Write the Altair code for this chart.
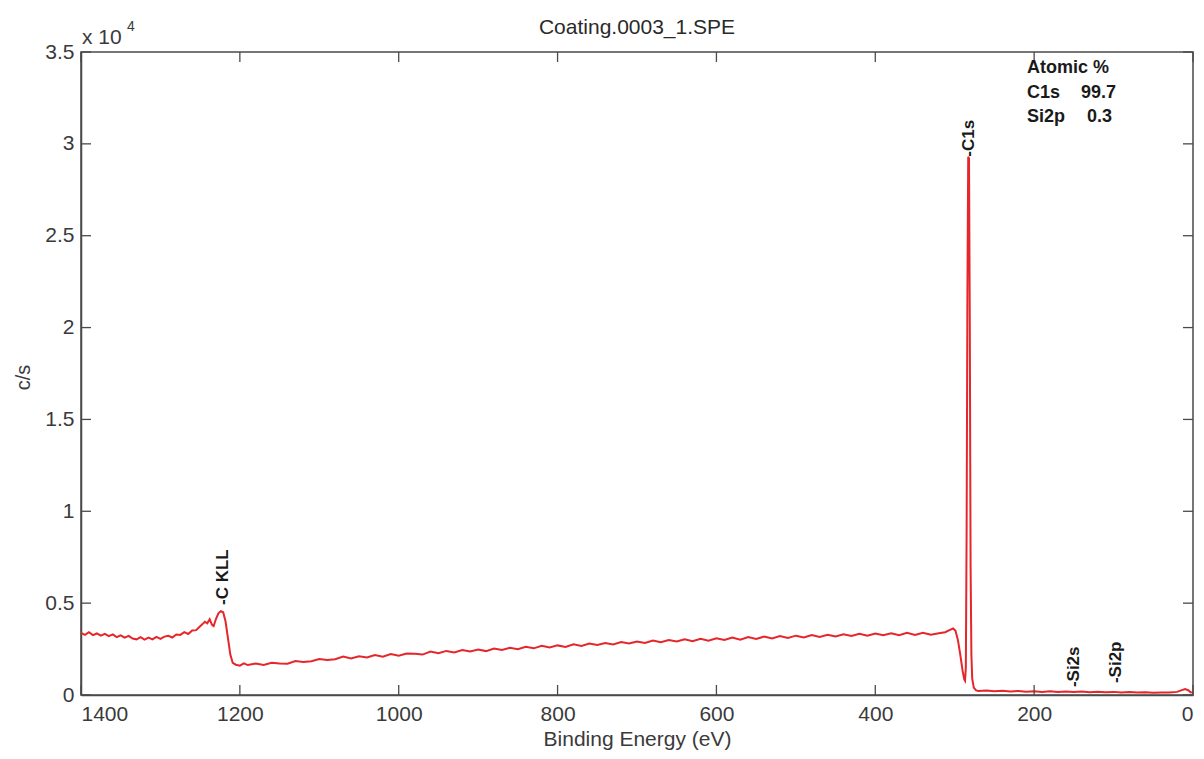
import altair as alt
import pandas as pd

# ---- spectrum (binding energy in eV, counts per second) ----
ev = [1400, 1395, 1390, 1385, 1380, 1375, 1370, 1365, 1360, 1355, 1350, 1345, 1340, 1335, 1330,
      1325, 1320, 1315, 1310, 1305, 1300, 1295, 1290, 1285, 1280, 1275, 1270, 1265, 1260, 1255,
      1250, 1247, 1244, 1241, 1238, 1235, 1233, 1230, 1227, 1224, 1221, 1218, 1215, 1212, 1209,
      1205, 1200, 1195, 1190,
      1180, 1170, 1160, 1150, 1140, 1130, 1120, 1110, 1100, 1090, 1080, 1070, 1060, 1050, 1040,
      1030, 1020, 1010, 1000, 990, 980, 970, 960, 950, 940, 930, 920, 910, 900, 890, 880, 870,
      860, 850, 840, 830, 820, 810, 800, 790, 780, 770, 760, 750, 740, 730, 720, 710, 700, 690,
      680, 670, 660, 650, 640, 630, 620, 610, 600, 590, 580, 570, 560, 550, 540, 530, 520, 510,
      500, 490, 480, 470, 460, 450, 440, 430, 420, 410, 400, 390, 380, 370, 360, 350, 340, 330,
      320, 312, 306, 302, 299, 296, 293, 290, 288, 287, 286, 285, 284, 283, 282, 281, 280, 279,
      278, 276, 273, 270, 260, 250, 240, 230, 220, 210, 200, 190, 180, 170, 160, 150, 140, 130,
      120, 110, 100, 90, 80, 70, 60, 50, 40, 30, 20, 15, 10, 6, 3, 0]
cps = [3380, 3270, 3420, 3260, 3350, 3230, 3330, 3200, 3300, 3150, 3250, 3120, 3220, 3070, 3030,
       3150, 3010, 3120, 3030, 3160, 3050, 3180, 3220, 3130, 3290, 3270, 3420, 3320, 3510, 3530,
       3740, 3860, 3990, 3900, 4120, 3820, 3750, 4150, 4450, 4560, 4500, 4000, 3100, 2200, 1750,
       1650, 1600, 1720, 1630,
       1720, 1640, 1760, 1720, 1700, 1850, 1800, 1840, 1960, 1900, 1950, 2090, 1990, 2110, 2040,
       2180, 2090, 2230, 2140, 2260, 2240, 2200, 2360, 2270, 2400, 2320, 2450, 2370, 2480, 2390,
       2530, 2450, 2570, 2490, 2620, 2540, 2680, 2590, 2700, 2620, 2760, 2670, 2800, 2720, 2830,
       2750, 2880, 2800, 2910, 2830, 2960, 2870, 2990, 2910, 3030, 2930, 3060, 2960, 3090, 2990,
       3130, 3010, 3150, 3050, 3180, 3080, 3210, 3110, 3230, 3130, 3260, 3160, 3280, 3180, 3310,
       3210, 3330, 3230, 3350, 3250, 3360, 3260, 3380, 3270, 3390, 3280,
       3360, 3420, 3540, 3620, 3500, 3000, 2200, 1300, 850, 780, 1500, 9000, 22000, 29300, 29200,
       20000, 7000, 2200, 900, 400, 250, 220, 240, 200, 230, 190, 220, 180, 210, 170, 200, 160,
       190, 170, 190, 150, 180, 150, 170, 140, 160, 130, 150, 120, 140, 130, 170, 250, 320, 260,
       150, 130]

# ---- axis ticks ----
x_ticks = [1400, 1200, 1000, 800, 600, 400, 200, 0]
y_ticks = [0, 5000, 10000, 15000, 20000, 25000, 30000, 35000]

# ---- peak annotations ----
peak_names = ["-C KLL", "-C1s", "-Si2s", "-Si2p"]
peak_ev = [1221, 282, 150, 97]
peak_cps = [4900, 29300, 430, 650]

# ---- quantification table ----
table_title = "Atomic %"
table_names = ["C1s", "Si2p"]
table_values = ["99.7", "0.3"]

title_text = "Coating.0003_1.SPE"

W, H = 1112, 643
FONT = "Liberation Sans"
AX = "#4a4a4a"
LBL = "#3a3a3a"
RED = "#e5262a"

xs = alt.Scale(domain=[1400, 0], nice=False, zero=False)
ys = alt.Scale(domain=[0, 35000], nice=False)

spec = pd.DataFrame({"ev": ev, "cps": cps})

line = alt.Chart(spec).mark_line(color=RED, strokeWidth=2).encode(
    x=alt.X("ev:Q", scale=xs,
            axis=alt.Axis(values=x_ticks, format="d", tickSize=0, grid=False, labelPadding=8,
                          labelFont=FONT, labelFontSize=21, labelColor=LBL,
                          domainColor=AX, domainWidth=1.5,
                          title="Binding Energy (eV)", titleFont=FONT, titleFontSize=21,
                          titleFontWeight="normal", titleColor=LBL,
                          titleX=W / 2, titleY=44, titleAlign="center", titleBaseline="middle")),
    y=alt.Y("cps:Q", scale=ys,
            axis=alt.Axis(values=y_ticks, tickSize=0, grid=False, labelPadding=7,
                          labelExpr="format(datum.value / 10000, '~g')",
                          labelFont=FONT, labelFontSize=21, labelColor=LBL,
                          domainColor=AX, domainWidth=1.5,
                          title="c/s", titleFont=FONT, titleFontSize=20,
                          titleFontWeight="normal", titleColor=LBL,
                          titleX=-58, titleY=325, titleAngle=270,
                          titleAlign="center", titleBaseline="middle")),
    order=alt.Order("idx:Q"),
).transform_window(idx="row_number()")

xt = pd.DataFrame({"ev": x_ticks})
yt = pd.DataFrame({"cps": y_ticks})

tick_bottom = alt.Chart(xt).mark_rule(color=AX, strokeWidth=1.3).encode(
    x=alt.X("ev:Q", scale=xs), y=alt.value(H), y2=alt.value(H - 10))
tick_top = alt.Chart(xt).mark_rule(color=AX, strokeWidth=1.3).encode(
    x=alt.X("ev:Q", scale=xs), y=alt.value(0), y2=alt.value(10))
tick_left = alt.Chart(yt).mark_rule(color=AX, strokeWidth=1.3).encode(
    y=alt.Y("cps:Q", scale=ys), x=alt.value(0), x2=alt.value(10))
tick_right = alt.Chart(yt).mark_rule(color=AX, strokeWidth=1.3).encode(
    y=alt.Y("cps:Q", scale=ys), x=alt.value(W), x2=alt.value(W - 10))

peaks = pd.DataFrame({"name": peak_names, "ev": peak_ev, "cps": peak_cps})
peak_text = alt.Chart(peaks).mark_text(
    angle=270, align="left", baseline="middle", font=FONT, fontSize=17,
    fontWeight="bold", color="#1a1a1a").encode(
    x=alt.X("ev:Q", scale=xs), y=alt.Y("cps:Q", scale=ys), text="name:N")


def label(txt, x, y, size=18, weight="bold", align="left", color="#1a1a1a", baseline="middle"):
    return alt.Chart(pd.DataFrame({"t": [txt]})).mark_text(
        font=FONT, fontSize=size, fontWeight=weight, align=align, baseline=baseline,
        color=color).encode(text="t:N", x=alt.value(x), y=alt.value(y))


ann = [
    label(table_title, 946, 16),
    label(table_names[0], 946, 41),
    label(table_values[0], 1000, 41),
    label(table_names[1], 946, 65),
    label(table_values[1], 1006, 65),
    label(title_text, W / 2, -24, size=21, weight="normal", align="center", color="#2a2a2a"),
    label("x 10", 1, -14, size=21, weight="normal", color=LBL),
    label("4", 46, -25, size=14, weight="normal", color=LBL),
]

chart = alt.layer(line, tick_bottom, tick_top, tick_left, tick_right, peak_text, *ann).properties(
    width=W, height=H,
    autosize=alt.AutoSizeParams(type="none"),
    padding={"left": 73, "top": 44, "right": 3, "bottom": 56},
    background="white",
).configure_view(stroke=AX, strokeWidth=1.5)

chart.save("out.html", embed_options={"renderer": "svg", "actions": False})
